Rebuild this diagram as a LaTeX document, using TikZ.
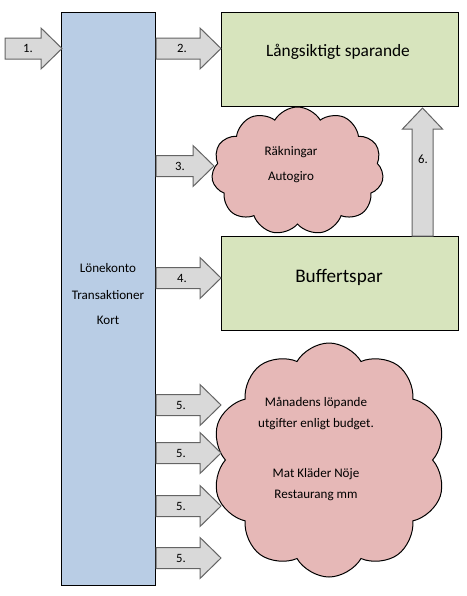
\documentclass[tikz,border=0pt]{standalone}
\usepackage{fontspec}
\setmainfont{Carlito}
\usetikzlibrary{shapes.symbols}
\definecolor{bluefill}{RGB}{185,205,229}
\definecolor{greenfill}{RGB}{215,228,189}
\definecolor{pinkfill}{RGB}{230,184,183}
\definecolor{arrowfill}{RGB}{217,217,217}
\definecolor{arrowline}{RGB}{100,100,100}
\newcommand\harrow[3]{%
  \draw[fat] (#1,#3-10.5) -- (#2-21,#3-10.5) -- (#2-21,#3-20.5) -- (#2,#3)
    -- (#2-21,#3+20.5) -- (#2-21,#3+10.5) -- (#1,#3+10.5) -- cycle;}
\begin{document}
\begin{tikzpicture}[x=0.75pt,y=-0.75pt,
  box/.style={draw=black, line width=0.75pt, inner sep=0pt},
  fat/.style={draw=arrowline, fill=arrowfill, line width=0.75pt, line join=miter},
  lbl/.style={font=\fontsize{9.5}{11}\selectfont, inner sep=0pt},
  txt/.style={font=\fontsize{9.8}{11}\selectfont, inner sep=0pt},
  puff/.style={cloud, cloud puffs=10, cloud puff arc=120, cloud ignores aspect,
    draw=black, line width=0.75pt, fill=pinkfill, inner sep=0pt}]
\useasboundingbox (0,0) rectangle (467,596);
% boxes
\node[box, fill=bluefill, minimum width={94*0.75pt}, minimum height={573*0.75pt}] (konto) at (108,298.5) {};
\node[box, fill=greenfill, minimum width={237*0.75pt}, minimum height={94*0.75pt}] (lang) at (339.5,59) {};
\node[box, fill=greenfill, minimum width={237*0.75pt}, minimum height={94*0.75pt}] (buffer) at (339.5,283) {};
% clouds
\node[puff, cloud puffs=11, minimum width={172*0.75pt}, minimum height={128*0.75pt}] (bills) at (297.5,171) {};
\node[puff, minimum width={234*0.75pt}, minimum height={234*0.75pt}] (month) at (329,460) {};
% texts
\node[txt] (t1) at (108,268) {Lönekonto};
\node[txt] (t2) at (108,295) {Transaktioner};
\node[txt] (t3) at (108,320) {Kort};
\node[font=\fontsize{13}{15}\selectfont, inner sep=0pt] (t4) at (338,52) {Långsiktigt sparande};
\node[font=\fontsize{14.4}{16}\selectfont, inner sep=0pt] (t5) at (339,277) {Buffertspar};
\node[txt] (t6) at (291,152) {Räkningar};
\node[txt] (t7) at (291,177) {Autogiro};
\node[txt] (t8) at (316,403) {Månadens löpande};
\node[txt] (t9) at (316,424) {utgifter enligt budget.};
\node[txt] (t10) at (316,474) {Mat Kläder Nöje};
\node[txt] (t11) at (316,495) {Restaurang mm};
% arrows
\harrow{5}{62}{48.5}
\harrow{156}{221}{48.5}
\harrow{156}{214}{166}
\harrow{156}{221}{278}
\harrow{156}{221}{405}
\harrow{156}{221}{453}
\harrow{156}{221}{506}
\harrow{156}{221}{558}
\draw[fat] (412,236) -- (412,129) -- (402.5,129) -- (422.5,108) -- (442.5,129)
  -- (433,129) -- (433,236) -- cycle;
\node[lbl] (a1) at (28,48.5) {1.};
\node[lbl] (a2) at (182,48.5) {2.};
\node[lbl] (a3) at (180,166) {3.};
\node[lbl] (a4) at (182,278) {4.};
\node[lbl] (a5) at (181,405) {5.};
\node[lbl] (a6) at (181,453) {5.};
\node[lbl] (a7) at (181,506) {5.};
\node[lbl] (a8) at (181,558) {5.};
\node[lbl] (a9) at (423,159) {6.};
\end{tikzpicture}
\end{document}
